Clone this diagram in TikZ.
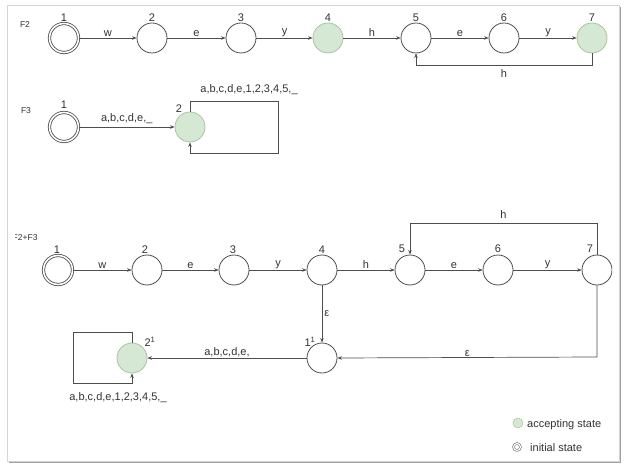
\documentclass[tikz,border=0pt]{standalone}
\usepackage{fontspec}
\setmainfont{Liberation Sans}
\usetikzlibrary{arrows.meta}
\definecolor{accfill}{HTML}{D5E8D4}
\definecolor{accdraw}{HTML}{A8C49E}
\definecolor{stategray}{HTML}{4D4D4D}
\definecolor{edgegray}{HTML}{4D4D4D}
\definecolor{textgray}{HTML}{333333}
\definecolor{framegray}{HTML}{D4D4D4}
\definecolor{shadowgray}{HTML}{A0A0A0}
\begin{document}
\begin{tikzpicture}[x=1pt,y=-1pt,
  state/.style={circle, draw=stategray, line width=0.8pt, minimum size=30pt, inner sep=0pt, fill=white},
  acc/.style={state, fill=accfill, draw=accdraw},
  init/.style={state, double=white, double distance=1.6pt, minimum size=29pt},
  edge/.style={draw=edgegray, line width=0.7pt, -{Stealth[length=4.5pt,width=3.5pt]}},
  elab/.style={font=\fontsize{11}{13}\selectfont, text=textgray, inner sep=1pt},
  num/.style={font=\fontsize{11}{13}\selectfont, text=textgray, inner sep=0pt},
  flab/.style={font=\fontsize{8.5}{10}\selectfont, text=textgray, inner sep=0pt}
]
\useasboundingbox (0,0) rectangle (628,470);
\fill[white] (0,0) rectangle (628,470);
% frame with shadow
\draw[shadowgray, line width=1.6pt] (9,462.5) -- (620.5,462.5) -- (620.5,7);
\draw[framegray, line width=0.8pt] (7,5) rectangle (619,461);

% ---------- F2 ----------
\node[flab] (f2) at (25,25) {F2};
\node[init] (a1) at (64,38) {};
\node[state] (a2) at (152,38) {};
\node[state] (a3) at (241,38) {};
\node[acc] (a4) at (328,38) {};
\node[state] (a5) at (416,38) {};
\node[state] (a6) at (504,38) {};
\node[acc] (a7) at (592,38) {};
\foreach \n/\x in {1/64,2/152,3/241,4/328,5/416,6/504,7/592}
  \node[num] (an\n) at (\x,18) {\n};
\draw[edge] (a1) -- node[elab, above] (aw) {w} (a2);
\draw[edge] (a2) -- node[elab, above] (ae) {e} (a3);
\draw[edge] (a3) -- node[elab, above] (ay) {y} (a4);
\draw[edge] (a4) -- node[elab, above] (ah) {h} (a5);
\draw[edge] (a5) -- node[elab, above] (ae2) {e} (a6);
\draw[edge] (a6) -- node[elab, above] (ay2) {y} (a7);
\draw[edge] (a7.south) -- (592,65) -- node[elab, below=3pt] (ahl) {h} (416,65) -- (a5.south);

% ---------- F3 ----------
\node[flab] (f3) at (26,111) {F3};
\node[init] (b1) at (64,127) {};
\node[acc] (b2) at (190,127) {};
\node[num] (bn1) at (64,105) {1};
\node[num] (bn2) at (179,109) {2};
\draw[edge] (b1) -- node[elab, above=2pt] (bl) {a,b,c,d,e,\_} (b2);
\draw[edge] (b2.north) -- (190,101) -- (278,101) -- (278,153) -- (190,153) -- (b2.south);
\node[elab] (bloop) at (249,90) {a,b,c,d,e,1,2,3,4,5,\_};

% ---------- F2+F3 ----------
\begin{scope}
\clip (15.5,225) rectangle (60,250);
\node[flab, anchor=west] (f23) at (12.5,238) {F2+F3};
\end{scope}
\node[init] (c1) at (58,270) {};
\node[state] (c2) at (147,270) {};
\node[state] (c3) at (234,270) {};
\node[state] (c4) at (322,270) {};
\node[state] (c5) at (410,270) {};
\node[state] (c6) at (498,270) {};
\begin{scope}
\clip (560,240) rectangle (612,300);
\node[state] (c7) at (597,270) {};
\end{scope}
\node[num] (cn1) at (57,250) {1};
\node[num] (cn2) at (145,250) {2};
\node[num] (cn3) at (233,250) {3};
\node[num] (cn4) at (322,250) {4};
\node[num] (cn5) at (402,249) {5};
\node[num] (cn6) at (498,249) {6};
\node[num] (cn7) at (590,249) {7};
\draw[edge] (c1) -- node[elab, above] (cw) {w} (c2);
\draw[edge] (c2) -- node[elab, above] (ce) {e} (c3);
\draw[edge] (c3) -- node[elab, above] (cy) {y} (c4);
\draw[edge] (c4) -- node[elab, above] (ch) {h} (c5);
\draw[edge] (c5) -- node[elab, above] (ce2) {e} (c6);
\draw[edge] (c6) -- node[elab, above] (cy2) {y} (c7);
\draw[edge] (c7.north) -- (597,223) -- node[elab, above=3pt] (chl) {h} (410,223) -- (c5.north);

\node[state] (d1) at (322,358) {};
\node[acc] (d2) at (132,358) {};
\node[num] (dn1) at (310,342) {1\textsuperscript{1}};
\node[num] (dn2) at (150,342) {2\textsuperscript{1}};
\draw[edge] (c4.south) -- node[elab, right=1pt, pos=0.5] (ceps) {ε} (d1.north);
\draw[edge] (c7.south) -- (597,357) -- node[elab, above] (deps) {ε} (d1.east);
\draw[edge] (d1.west) -- node[elab, above, pos=0.5] (dl) {a,b,c,d,e,} (d2.east);
\draw[edge] (d2.north) -- (132,332) -- (73,332) -- (73,383) -- (132,383) -- (d2.south);
\node[elab] (dloop) at (118,398) {a,b,c,d,e,1,2,3,4,5,\_};

% ---------- legend ----------
\node[circle, fill=accfill, draw=accdraw, line width=0.5pt, minimum size=10pt, inner sep=0pt] (lg1) at (518,423) {};
\node[elab, anchor=west] (lt1) at (526,425) {accepting state};
\node[circle, draw=stategray!80, line width=0.6pt, double=white, double distance=1.2pt, minimum size=7pt, inner sep=0pt] (lg2) at (517,447) {};
\node[elab, anchor=west] (lt2) at (529,448) {initial state};
\end{tikzpicture}
\end{document}
